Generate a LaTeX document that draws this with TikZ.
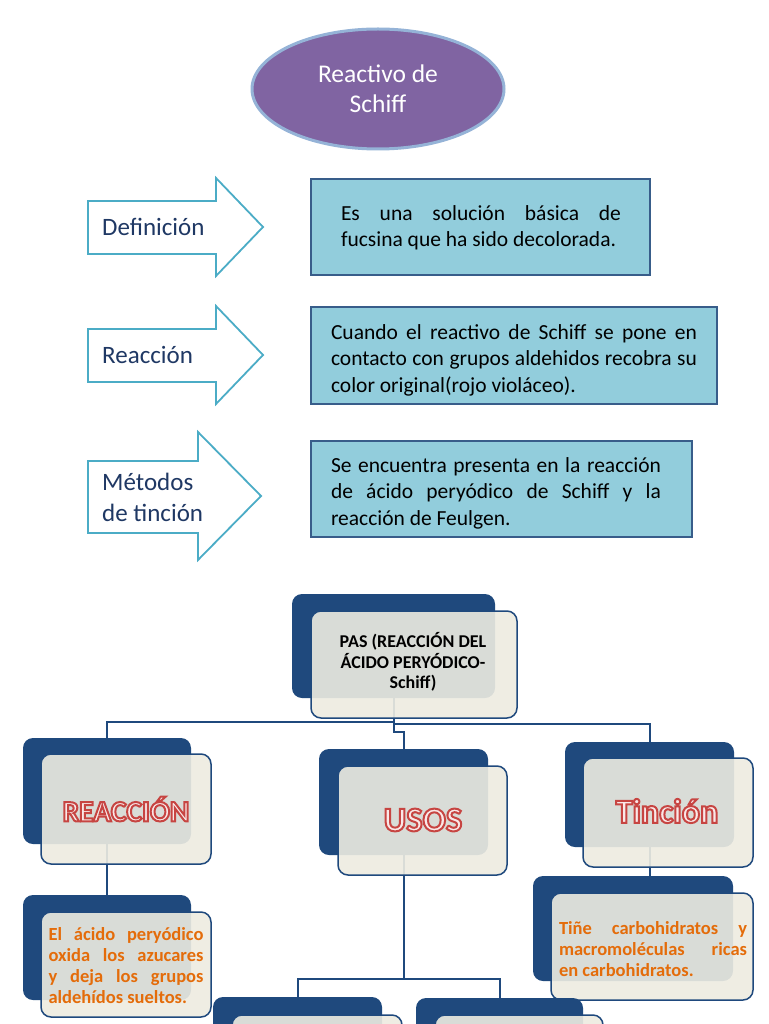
\documentclass[tikz,border=0pt]{standalone}
\usepackage{fontspec}
\setmainfont{Carlito}
\usetikzlibrary{shapes.geometric}
\definecolor{dkblue}{RGB}{31,73,125}
\definecolor{frontfill}{RGB}{238,236,225}
\definecolor{arrowline}{RGB}{75,172,198}
\definecolor{lbfill}{RGB}{146,205,220}
\definecolor{lbline}{RGB}{56,93,138}
\definecolor{purp}{RGB}{128,100,162}
\definecolor{purpline}{RGB}{149,179,215}
\definecolor{labelblue}{RGB}{31,56,100}
\definecolor{orangetxt}{RGB}{228,108,10}
\definecolor{pinkfill}{RGB}{250,232,232}
\pgfdeclarelayer{paper}
\pgfdeclarelayer{bg}
\pgfsetlayers{paper,bg,main}
\newcommand\outlinetext[1]{\special{pdf:literal 2 Tr 2 w 0.78 0.27 0.26 RG}#1\special{pdf:literal 0 Tr}}
\tikzset{
  infobox/.style={draw=lbline, fill=lbfill, line width=1.6pt, inner sep=0pt},
  boxtext/.style={inner sep=0pt, align=justify, font=\fontsize{21.5}{26.5}\selectfont},
  arrowshape/.style={draw=arrowline, fill=white, line width=1.8pt, line join=miter},
  arrowlabel/.style={inner sep=0pt, anchor=west, text=labelblue, align=left, font=\fontsize{25}{31}\selectfont},
  backbox/.style={fill=dkblue, rounded corners=10pt, inner sep=0pt},
  frontbox/.style={fill=frontfill, fill opacity=0.9, text opacity=1, draw=dkblue, line width=1.5pt, rounded corners=10pt, inner sep=0pt},
  conn/.style={draw=dkblue, line width=2pt},
  outlined/.style={inner sep=0pt, text=pinkfill, font=\bfseries\fontsize{#1}{#1}\selectfont},
  orangetext/.style={inner sep=0pt, align=justify, text=orangetxt, font=\bfseries\fontsize{18.5}{21}\selectfont},
}
\begin{document}
\begin{tikzpicture}[x=1pt,y=-1pt]
\useasboundingbox (0,0) rectangle (768,1024);
\clip (0,0) rectangle (768,1024);
\begin{pgfonlayer}{paper}
\fill[white] (0,0) rectangle (768,1024);
\end{pgfonlayer}

% title
\node[ellipse, draw=purpline, line width=3pt, fill=purp, minimum width=252pt, minimum height=120pt,
      text=white, align=center, font=\fontsize{25.5}{30}\selectfont] (title) at (378,89) {Reactivo de\\Schiff};

% arrows
\draw[arrowshape] (88,201) -- (216,201) -- (216,178) -- (263,227) -- (216,276) -- (216,254) -- (88,254) -- cycle;
\node[arrowlabel] (l1) at (102,227) {Definición};
\draw[arrowshape] (88,329) -- (216,329) -- (216,306) -- (263,355) -- (216,404) -- (216,382) -- (88,382) -- cycle;
\node[arrowlabel] (l2) at (102,355) {Reacción};
\draw[arrowshape] (88,461) -- (198,461) -- (198,432) -- (261,496) -- (198,560) -- (198,533) -- (88,533) -- cycle;
\node[arrowlabel] (l3) at (102,497) {Métodos\\de tinción};

% info boxes
\node[infobox, minimum width=339pt, minimum height=96pt] (box1) at (480.5,227) {};
\node[boxtext, text width=280pt] (t1) at (481,228) {Es una solución básica de\linebreak fucsina que ha sido decolorada.};
\node[infobox, minimum width=406pt, minimum height=97pt] (box2) at (514,355.5) {};
\node[boxtext, text width=366pt] (t2) at (514,360) {Cuando el reactivo de Schiff se pone en\linebreak contacto con grupos aldehidos recobra su\linebreak color original(rojo violáceo).};
\node[infobox, minimum width=381pt, minimum height=96pt] (box3) at (501.5,489) {};
\node[boxtext, text width=330pt] (t3) at (496,493) {Se encuentra presenta en la reacción\linebreak de ácido peryódico de Schiff y la\linebreak reacción de Feulgen.};

% org chart
\node[backbox, minimum width=203pt, minimum height=104pt] (pasB) at (393.5,646) {};
\node[frontbox, minimum width=206pt, minimum height=107pt] (pasF) at (414,664.5) {};
\node[inner sep=0pt, align=center, font=\bfseries\fontsize{18}{20.5}\selectfont] (pasT) at (413,662) {PAS (REACCIÓN DEL\\ÁCIDO PERYÓDICO-\\Schiff)};

\node[backbox, minimum width=168pt, minimum height=106pt] (reacB) at (107,791) {};
\node[frontbox, minimum width=170pt, minimum height=110pt] (reacF) at (126,809) {};
\node[outlined=29.5] (reacT) at (126,809) {\outlinetext{REACCIÓN}};

\node[backbox, minimum width=169pt, minimum height=106pt] (usosB) at (403.5,802) {};
\node[frontbox, minimum width=169pt, minimum height=109pt] (usosF) at (422.5,820.5) {};
\node[outlined=34.5] (usosT) at (423,820) {\outlinetext{USOS}};

\node[backbox, minimum width=169pt, minimum height=105pt] (tincB) at (649.5,794.5) {};
\node[frontbox, minimum width=170pt, minimum height=109pt] (tincF) at (668,812.5) {};
\node[outlined=34] (tincT) at (667,811) {\outlinetext{Tinción}};

\node[backbox, minimum width=168pt, minimum height=105pt] (acidB) at (107,947.5) {};
\node[frontbox, minimum width=170pt, minimum height=105pt] (acidF) at (126,964.5) {};
\node[orangetext, text width=155pt] (acidT) at (126,966) {El ácido peryódico\linebreak oxida los azucares\linebreak y deja los grupos\linebreak aldehídos sueltos.};

\node[backbox, minimum width=200pt, minimum height=105pt] (tineB) at (633,928.5) {};
\node[frontbox, minimum width=202pt, minimum height=107pt] (tineF) at (652,946.5) {};
\node[orangetext, text width=188pt] (tineT) at (653,949) {Tiñe carbohidratos y\linebreak macromoléculas ricas\linebreak en carbohidratos.};

\node[backbox, minimum width=169pt, minimum height=103pt] (blB) at (297.5,1048.5) {};
\node[frontbox, minimum width=170pt, minimum height=105pt] (blF) at (317,1067.5) {};
\node[backbox, minimum width=167pt, minimum height=102pt] (brB) at (499.5,1049) {};
\node[frontbox, minimum width=168pt, minimum height=105pt] (brF) at (519,1067.5) {};

% connectors
\begin{pgfonlayer}{bg}
\draw[conn] (pasB.south) -- ++(0,24) coordinate (jl) -| (reacB.north);
\draw[conn] (pasB.south) -- ++(0,26) -| (tincB.north);
\draw[conn] (jl) -- ++(0,10) -| (usosB.north);
\draw[conn] (reacB.south) -- (acidB.north);
\draw[conn] (tincB.south) -- (tincB.south |- tineF.north);
\draw[conn] (usosB.south) -- ++(0,124) coordinate (ju) -| (blB.north);
\draw[conn] (ju) -| (brB.north);
\end{pgfonlayer}
\end{tikzpicture}
\end{document}
